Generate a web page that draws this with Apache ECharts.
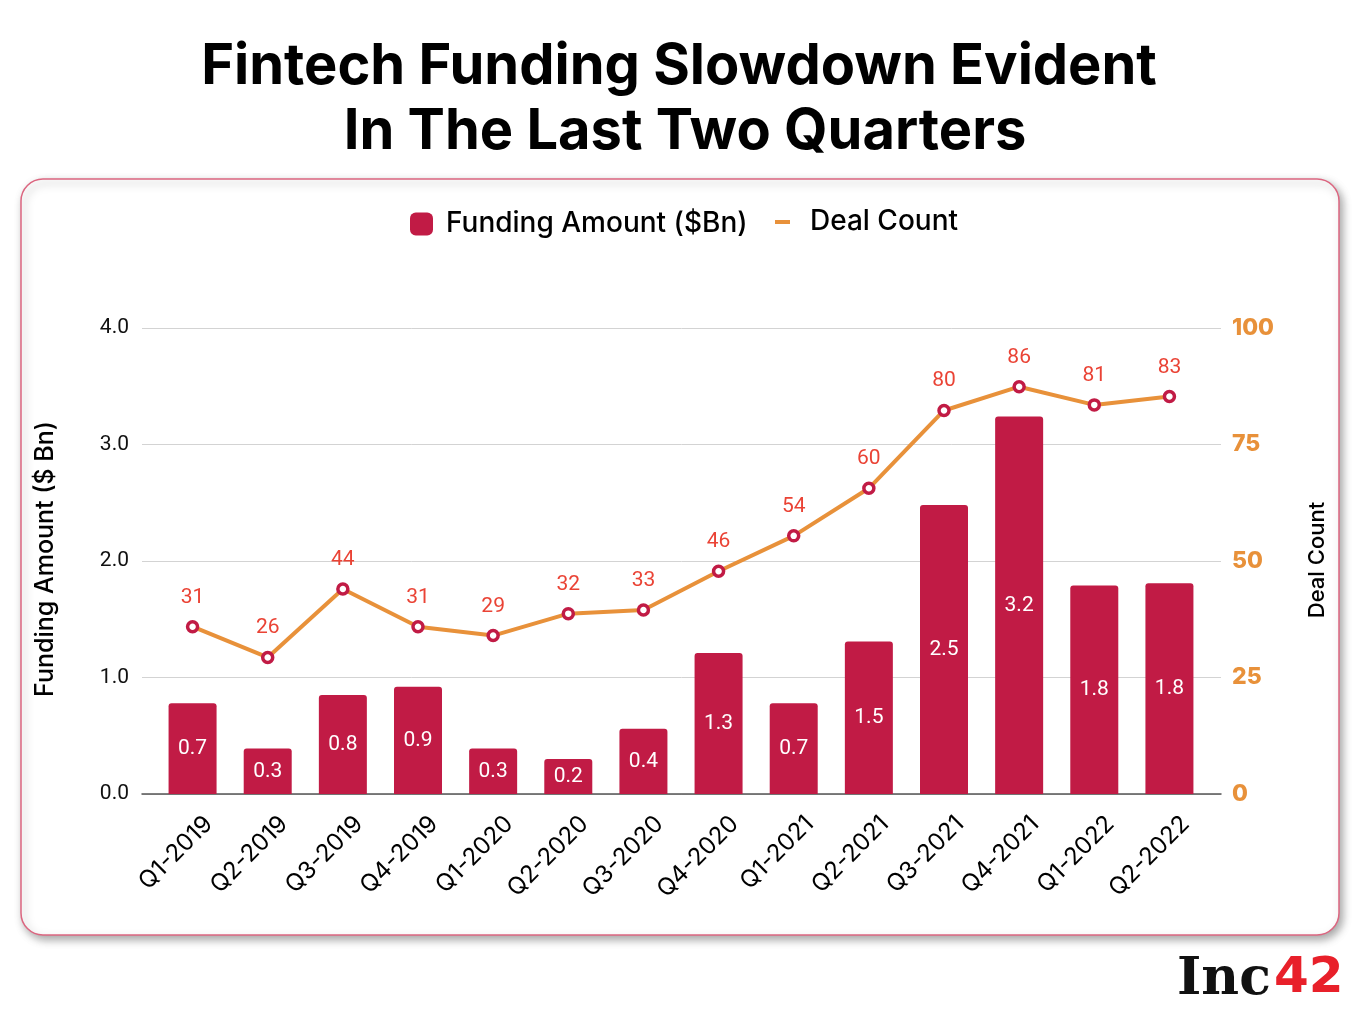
<!DOCTYPE html>
<html>
<head>
<meta charset="utf-8">
<script src="https://cdn.jsdelivr.net/npm/echarts@6/dist/echarts.min.js"></script>
<style>
html,body{margin:0;padding:0;background:#fff;}
#chart{width:1360px;height:1020px;}
</style>
</head>
<body>
<div id="chart"></div>
<script>
const categories = ['Q1-2019','Q2-2019','Q3-2019','Q4-2019','Q1-2020','Q2-2020','Q3-2020','Q4-2020','Q1-2021','Q2-2021','Q3-2021','Q4-2021','Q1-2022','Q2-2022'];
// bar heights as drawn ($Bn)
const fundingAmount = [0.78, 0.39, 0.85, 0.92, 0.39, 0.30, 0.56, 1.21, 0.78, 1.31, 2.48, 3.24, 1.79, 1.81];
// labels printed inside bars
const fundingLabels = ['0.7','0.3','0.8','0.9','0.3','0.2','0.4','1.3','0.7','1.5','2.5','3.2','1.8','1.8'];
// line points as drawn
const dealCount = [35.9, 29.3, 44.0, 35.9, 34.0, 38.7, 39.5, 47.8, 55.4, 65.6, 82.3, 87.4, 83.5, 85.3];
// labels printed above points
const dealLabels = ['31','26','44','31','29','32','33','46','54','60','80','86','81','83'];
const leftTicks = [0, 1, 2, 3, 4];
const rightTicks = [0, 25, 50, 75, 100];

const BAR = '#C11B45';
const LINE = '#E8913A';
const PT_LABEL = '#EA4335';
const FONT = 'Inter, "Open Sans", sans-serif';

const chart = echarts.init(document.getElementById('chart'), null, {renderer: 'canvas'});

const plotTop = 328, plotH = 466;

chart.setOption({
  animation: false,
  backgroundColor: '#ffffff',
  graphic: [
    {
      type: 'rect', z: -10, silent: true,
      shape: {x: 21, y: 179, width: 1318, height: 756, r: 22},
      style: {fill: '#fff', stroke: '#DC6680', lineWidth: 1.5,
        shadowBlur: 8, shadowOffsetX: 3, shadowOffsetY: 4, shadowColor: 'rgba(0,0,0,0.35)'}
    },
    {
      type: 'text', silent: true, x: 679, y: 67,
      style: {text: 'Fintech Funding Slowdown Evident', fill: '#000', font: '700 56px ' + FONT,
        textAlign: 'center', textVerticalAlign: 'middle'}
    },
    {
      type: 'text', silent: true, x: 685, y: 132,
      style: {text: 'In The Last Two Quarters', fill: '#000', font: '700 56px ' + FONT,
        textAlign: 'center', textVerticalAlign: 'middle'}
    },
    {
      type: 'text', silent: true,
      x: 45, y: 559,
      rotation: Math.PI / 2,
      style: {text: 'Funding Amount ($ Bn)', fill: '#000', font: '500 25px ' + FONT,
        textAlign: 'center', textVerticalAlign: 'middle'}
    },
    {
      type: 'text', silent: true,
      x: 1317, y: 560,
      rotation: Math.PI / 2,
      style: {text: 'Deal Count', fill: '#000', font: '500 22px ' + FONT,
        textAlign: 'center', textVerticalAlign: 'middle'}
    },
    {
      type: 'text', silent: true, x: 1177, y: 980,
      style: {text: 'Inc', fill: '#111', font: 'bold 52px "DejaVu Serif", serif', textVerticalAlign: 'middle'}
    },
    {
      type: 'text', silent: true, x: 1274, y: 979,
      style: {text: '42', fill: '#E8202A', font: 'bold 50px "DejaVu Sans", sans-serif', textVerticalAlign: 'middle'}
    }
  ],
  legend: [
    {
      data: [{name: 'Funding Amount ($Bn)', icon: 'roundRect'}],
      left: 405, top: 205,
      itemWidth: 23, itemHeight: 23, itemGap: 0,
      textStyle: {fontFamily: FONT, fontWeight: 500, fontSize: 28, color: '#000', padding: [0, 0, 0, 8]},
      selectedMode: false
    },
    {
      data: [{name: 'Deal Count', icon: 'rect', itemStyle: {color: LINE, borderWidth: 0}}],
      left: 770, top: 203,
      itemWidth: 15, itemHeight: 4, itemGap: 0,
      textStyle: {fontFamily: FONT, fontWeight: 500, fontSize: 28, color: '#000', padding: [0, 0, 0, 15]},
      selectedMode: false
    }
  ],
  grid: [
    {left: 155, top: plotTop, width: 1052, height: plotH},
    {left: 142, top: plotTop, width: 1079, height: plotH},
    {left: 171, top: plotTop, width: 1052, height: plotH}
  ],
  xAxis: [
    {
      type: 'category', gridIndex: 0, data: categories,
      axisLine: {show: false}, axisTick: {show: false}, axisLabel: {show: false}
    },
    {
      type: 'value', gridIndex: 1, min: 0, max: 1,
      axisLine: {show: true, lineStyle: {color: '#555', width: 1.5}},
      axisTick: {show: false}, axisLabel: {show: false}, splitLine: {show: false}
    },
    {
      type: 'category', gridIndex: 2, data: categories,
      axisLine: {show: false}, axisTick: {show: false},
      axisLabel: {rotate: 45, fontFamily: FONT, fontSize: 24, color: '#000', margin: 26, interval: 0}
    }
  ],
  yAxis: [
    {type: 'value', gridIndex: 0, min: 0, max: 4, interval: 1, show: false},
    {type: 'value', gridIndex: 0, min: 0, max: 100, interval: 25, show: false},
    {
      type: 'value', gridIndex: 1, position: 'left', min: 0, max: 4, interval: 1,
      axisLine: {show: false}, axisTick: {show: false},
      axisLabel: {fontFamily: 'Roboto, sans-serif', fontSize: 21, color: '#111', margin: 13,
        formatter: v => v.toFixed(1)},
      splitLine: {lineStyle: {color: '#D3D3D3', width: 1}}
    },
    {
      type: 'value', gridIndex: 1, position: 'right', min: 0, max: 100, interval: 25,
      axisLine: {show: false}, axisTick: {show: false},
      axisLabel: {fontFamily: FONT, fontWeight: 800, fontSize: 23, color: LINE, margin: 11},
      splitLine: {show: false}
    },
    {type: 'value', gridIndex: 2, min: 0, max: 4, show: false}
  ],
  series: [
    {
      name: 'Funding Amount ($Bn)', type: 'bar', xAxisIndex: 0, yAxisIndex: 0,
      data: fundingAmount, barWidth: 48,
      itemStyle: {color: BAR, borderRadius: [3, 3, 0, 0]},
      label: {show: true, position: 'inside', color: '#fff', fontFamily: 'Roboto, sans-serif', fontSize: 21,
        formatter: p => fundingLabels[p.dataIndex]}
    },
    {
      name: 'Deal Count', type: 'line', xAxisIndex: 0, yAxisIndex: 1,
      data: dealCount,
      lineStyle: {color: LINE, width: 4},
      itemStyle: {color: '#fff', borderColor: BAR, borderWidth: 3.5},
      symbol: 'circle', symbolSize: 10,
      label: {show: true, position: 'top', distance: 12, color: PT_LABEL, fontFamily: 'Roboto, sans-serif', fontSize: 21,
        formatter: p => dealLabels[p.dataIndex]},
      z: 5
    }
  ]
});
</script>
</body>
</html>
